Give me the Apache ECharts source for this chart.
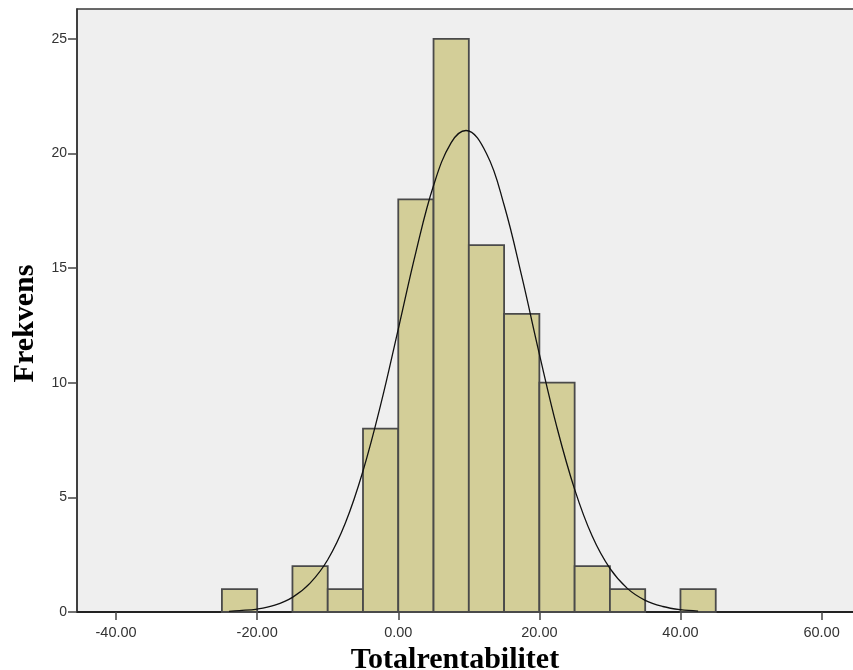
<!DOCTYPE html>
<html><head><meta charset="utf-8">
<script src="https://cdn.jsdelivr.net/npm/echarts@6/dist/echarts.min.js"></script>
<style>html,body{margin:0;padding:0;background:#fff}#c{width:853px;height:670px}</style>
</head><body><div id="c"></div>
<script>
// Histogram bins (lower edge, upper edge) and counts
var binStart = [-25, -20, -15, -10, -5, 0, 5, 10, 15, 20, 25, 30, 35, 40];
var binEnd   = [-20, -15, -10, -5, 0, 5, 10, 15, 20, 25, 30, 35, 40, 45];
var counts   = [1, 0, 2, 1, 8, 18, 25, 16, 13, 10, 2, 1, 0, 1];
// Normal curve points
var curveX = [-24, -22.5, -20, -17.5, -15, -12.5, -10, -7.5, -5, -2.5, 0, 2.5, 5, 7.5, 9.6, 12.5, 15, 17.5, 20, 22.5, 25, 27.5, 30, 32.5, 35, 37.5, 40, 42.5];
var curveY = [0.03, 0.06, 0.13, 0.3, 0.64, 1.26, 2.28, 3.88, 6.15, 9.03, 12.34, 15.7, 18.6, 20.47, 21.0, 20.0, 17.75, 14.65, 11.25, 8.04, 5.35, 3.3, 1.9, 1.02, 0.51, 0.24, 0.1, 0.04];
var xTicks = [-40, -20, 0, 20, 40, 60];

var barData = binStart.map(function (s, i) { return [s, binEnd[i], counts[i]]; })
  .filter(function (d) { return d[2] > 0; });
var lineData = curveX.map(function (x, i) { return [x, curveY[i]]; });

var chart = echarts.init(document.getElementById('c'));
chart.setOption({
  animation: false,
  backgroundColor: '#ffffff',
  grid: { left: 77, top: 9, right: -2, bottom: 58, outerBoundsMode: 'none', containLabel: false,
    show: true, backgroundColor: '#efefef', borderColor: '#3a3a3a', borderWidth: 1.5 },
  xAxis: {
    type: 'value', min: -45.54, max: 64.74,
    name: 'Totalrentabilitet', nameLocation: 'middle', nameGap: 30,
    nameTextStyle: { fontFamily: 'Liberation Serif', fontWeight: 'bold', fontSize: 30, color: '#000',
      padding: [0, 22, 0, 0] },
    axisLine: { onZero: false, lineStyle: { color: '#222', width: 2 } },
    axisTick: { show: true, customValues: xTicks, length: 8, lineStyle: { color: '#444', width: 1.5 } },
    axisLabel: { customValues: xTicks, margin: 13, fontFamily: 'Liberation Sans', fontSize: 14.5, color: '#333',
      formatter: function (v) { return v.toFixed(2); } },
    splitLine: { show: false }
  },
  yAxis: {
    type: 'value', min: 0, max: 26.3, interval: 5,
    name: 'Frekvens', nameLocation: 'middle', nameGap: 37,
    nameTextStyle: { fontFamily: 'Liberation Serif', fontWeight: 'bold', fontSize: 30, color: '#000',
      padding: [0, 26, 0, 0] },
    axisLine: { show: true, onZero: false, lineStyle: { color: '#333', width: 1.5 } },
    axisTick: { show: true, length: 9, lineStyle: { color: '#444', width: 1.5 } },
    axisLabel: { margin: 10, fontFamily: 'Liberation Sans', fontSize: 14, color: '#333',
      showMaxLabel: false },
    splitLine: { show: false }
  },
  series: [
    {
      type: 'custom',
      data: barData,
      encode: { x: [0, 1], y: 2 },
      renderItem: function (params, api) {
        var p0 = api.coord([api.value(0), api.value(2)]);
        var p1 = api.coord([api.value(1), 0]);
        return {
          type: 'rect',
          shape: { x: p0[0], y: p0[1], width: p1[0] - p0[0], height: p1[1] - p0[1] },
          style: { fill: '#d3ce98', stroke: '#4a4a4a', lineWidth: 1.8 }
        };
      },
      z: 2
    },
    {
      type: 'line', data: lineData, smooth: 0.4, showSymbol: false, symbol: 'none',
      lineStyle: { color: '#111', width: 1.3 }, z: 3
    }
  ]
});
</script>
</body></html>
